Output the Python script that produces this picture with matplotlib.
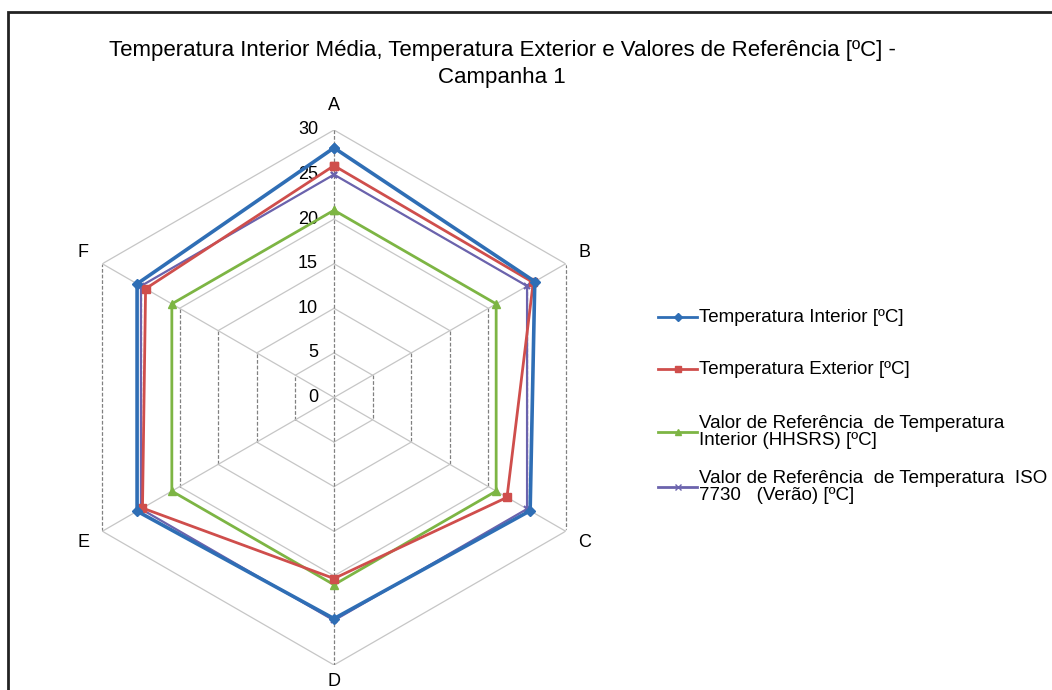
import numpy as np
import matplotlib.pyplot as plt
from matplotlib.lines import Line2D
from matplotlib.patches import Rectangle

plt.rcParams['font.family'] = ['Liberation Sans', 'DejaVu Sans']

categories = ['A', 'B', 'C', 'D', 'E', 'F']
temp_interior = [28.0, 26.0, 25.4, 24.8, 25.5, 25.5]
temp_exterior = [26.0, 25.8, 22.4, 20.3, 24.8, 24.4]
ref_hhsrs = [21, 21, 21, 21, 21, 21]
ref_iso = [25, 25, 25, 25, 25, 25]
ticks = [0, 5, 10, 15, 20, 25, 30]

series = [
    ('Temperatura Interior [ºC]', temp_interior, '#2f6eb5', 'D', 5, 2.6, 5),
    ('Temperatura Exterior [ºC]', temp_exterior, '#cf4e4c', 's', 6, 2.0, 4),
    ('Valor de Referência  de Temperatura\nInterior (HHSRS) [ºC]', ref_hhsrs, '#7db544', '^', 6, 2.0, 3),
    ('Valor de Referência  de Temperatura  ISO\n7730   (Verão) [ºC]', ref_iso, '#6b63ad', 'x', 5, 1.6, 3.5),
]

W, H = 1052, 690
fig = plt.figure(figsize=(W / 100, H / 100), dpi=100)
cx, cy, R = 334, 397.5, 267.5
ax = fig.add_axes([(cx - R) / W, (H - cy - R) / H, 2 * R / W, 2 * R / H], projection='polar')
ax.set_theta_offset(np.pi / 2)
ax.set_theta_direction(-1)
ax.set_ylim(0, 30)
ax.grid(False)
ax.set_xticks([])
ax.set_yticks([])
ax.spines['polar'].set_visible(False)

n = len(categories)
angles = np.linspace(0, 2 * np.pi, n, endpoint=False)
closed = np.append(angles, angles[0])

# hexagonal grid: vertical segments come out darker on the page
light = dict(color='#c6c6c6', lw=0.9, zorder=1)
dark = dict(color='#808080', lw=0.9, ls=(0, (3, 1.5)), zorder=1)
for r in ticks[1:]:
    for i in range(n):
        style = dark if i in (1, 4) else light
        ax.plot([closed[i], closed[i + 1]], [r, r], **style)
for i in range(n):
    style = dark if i in (0, 3) else light
    ax.plot([angles[i], angles[i]], [0, ticks[-1]], **style)

for r in ticks:
    ax.annotate(str(r), (0, r), xytext=(-16, 0), textcoords='offset pixels',
                ha='right', va='center', fontsize=13)
label_r = [32.8, 32.5, 32.5, 31.9, 32.5, 32.5]
for a, c, lr in zip(angles, categories, label_r):
    ax.text(a, lr, c, ha='center', va='center', fontsize=13)

for label, vals, col, mk, ms, lw, z in series:
    v = np.append(vals, vals[0])
    ax.plot(closed, v, color=col, lw=lw, marker=mk, ms=ms, mew=1.5 if mk == 'x' else 1,
            clip_on=False, zorder=z)

# legend
ly = [317, 369, 432, 487]
for (label, vals, col, mk, ms, lw, z), y in zip(series, ly):
    fy = 1 - y / H
    fig.add_artist(Line2D([658 / W, 697 / W], [fy, fy], color=col, lw=2))
    fig.add_artist(Line2D([677.5 / W], [fy], color=col, marker=mk, ms=ms - 1, lw=0))
    fig.text(699 / W, fy, label, ha='left', va='center', fontsize=13.5, linespacing=1.05)

fig.text(502 / W, 1 - 64 / H,
         'Temperatura Interior Média, Temperatura Exterior e Valores de Referência [ºC] -\nCampanha 1',
         ha='center', va='center', fontsize=16, linespacing=1.35)

fig.add_artist(Rectangle((8 / W, -0.1), 1.2, (H - 12) / H + 0.1, transform=fig.transFigure,
                         fill=False, lw=2, color='#222222'))

fig.savefig('out.png', dpi=100)
